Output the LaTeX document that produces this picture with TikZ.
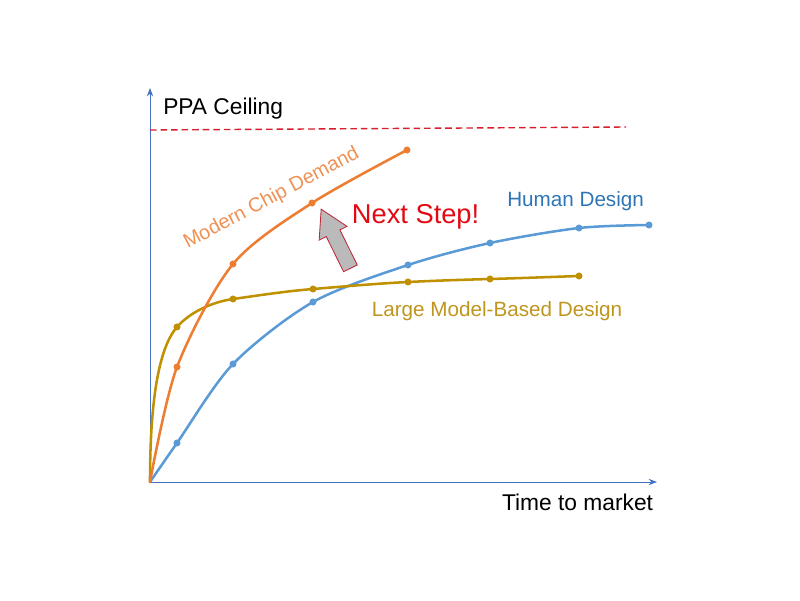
\documentclass[tikz,border=0pt]{standalone}
\usepackage{fontspec}
\setmainfont{Liberation Sans}
\usetikzlibrary{arrows.meta, shapes.arrows, positioning, calc}
\definecolor{axisblue}{RGB}{68,114,196}
\definecolor{chiporange}{RGB}{237,125,49}
\definecolor{chiptext}{RGB}{238,145,85}
\definecolor{humanblue}{RGB}{91,155,213}
\definecolor{humantext}{RGB}{46,117,182}
\definecolor{modelgold}{RGB}{191,144,0}
\definecolor{modeltext}{RGB}{190,150,30}
\definecolor{ceilred}{RGB}{215,30,45}
\definecolor{steptext}{RGB}{225,10,20}
\definecolor{stepedge}{RGB}{190,40,55}
\newcommand{\markPoints}[3]
{
	\foreach \n in {#3} \fill[#1] (#2\n) circle (2.5pt)
}

\begin{document}
\begin{tikzpicture}[
			axis/.style={draw=axisblue, line width=0.7pt, -{Stealth[length=6pt, width=4.5pt]}},
			curve/.style={line width=1.8pt, line cap=round},
			lbl/.style={inner sep=0, anchor=base, font=\fontsize{14.7}{17}\selectfont},
			big/.style={font=\fontsize{16.2}{19}\selectfont}]
			\useasboundingbox (-3.75,-2.95) rectangle (16.25,12.05);

			\coordinate (O) at (0, 0);
			\coordinate (Ytop) at (0, 9.85);
			\coordinate (Xend) at (12.675, 0);
			\coordinate (C1) at (0, 8.8);
			\coordinate (C2) at (11.9, 8.875);

			\foreach \x/\y [count=\i] in {0.675/2.875, 2.075/5.45, 4.05/6.975, 6.425/8.3}
				\coordinate (M\i) at (\x, \y);
			\foreach \x/\y [count=\i] in {0.675/0.975, 2.075/2.95, 4.075/4.5, 6.45/5.425, 8.5/5.975, 10.725/6.35, 12.475/6.425}
				\coordinate (H\i) at (\x, \y);
			\foreach \x/\y [count=\i] in {0.675/3.875, 2.075/4.575, 4.075/4.825, 6.45/5.0, 8.5/5.075, 10.725/5.15}
				\coordinate (L\i) at (\x, \y);

			\draw[axis] (O) -- (Ytop);
			\draw[axis] (O) -- (Xend);
			\draw[ceilred, line width=1pt, dash pattern=on 4.7pt off 2.8pt] (C1) -- (C2);

			\draw[curve, humanblue] plot[smooth] coordinates {(O) (H1) (H2) (H3) (H4) (H5) (H6) (H7)};
			% steep start along the axis, then flat
			\draw[curve, modelgold] (O) .. controls (0, 2.5) and (0.33, 3.48) .. (L1)
				.. controls (1.0, 4.247) and (1.55, 4.5) .. (L2)
				.. controls (2.75, 4.67) and (3.4, 4.77) .. (L3)
				.. controls (4.85, 4.888) and (5.65, 4.96) .. (L4)
				.. controls (7.15, 5.035) and (7.8, 5.055) .. (L5)
				.. controls (9.25, 5.096) and (10.0, 5.125) .. (L6);
			\draw[curve, chiporange] plot[smooth] coordinates {(O) (M1) (M2) (M3) (M4)};

			\markPoints{humanblue}{H}{1,...,7};
			\markPoints{modelgold}{L}{1,...,6};
			\markPoints{chiporange}{M}{1,...,4};

			\node[lbl, big, anchor=base west] (ppa) at (0.325, 9.175) {PPA Ceiling};
			\node[lbl, big, anchor=base east] (time) at (12.583, -0.7) {Time to market};
			\node[lbl, humantext] (human) at (10.64, 6.88) {Human Design};
			\node[lbl, modeltext] (model) at (8.675, 4.13) {Large Model-Based Design};
			\node[lbl, chiptext, rotate=28, font=\fontsize{14.2}{17}\selectfont] (chip) at (3.1, 6.975) {Modern Chip Demand};
			\node[lbl, steptext, font=\fontsize{19.4}{23}\selectfont] (step) at (6.64, 6.47) {Next Step!};

			\node[single arrow, draw=stepedge, fill=black!27, line width=0.6pt,
				inner sep=0.18cm, single arrow head extend=0.1975cm, single arrow tip angle=60,
				minimum height=1.65cm, rotate=116.3, anchor=tip] (push) at (4.27, 6.84) {};
		\end{tikzpicture}
\end{document}
